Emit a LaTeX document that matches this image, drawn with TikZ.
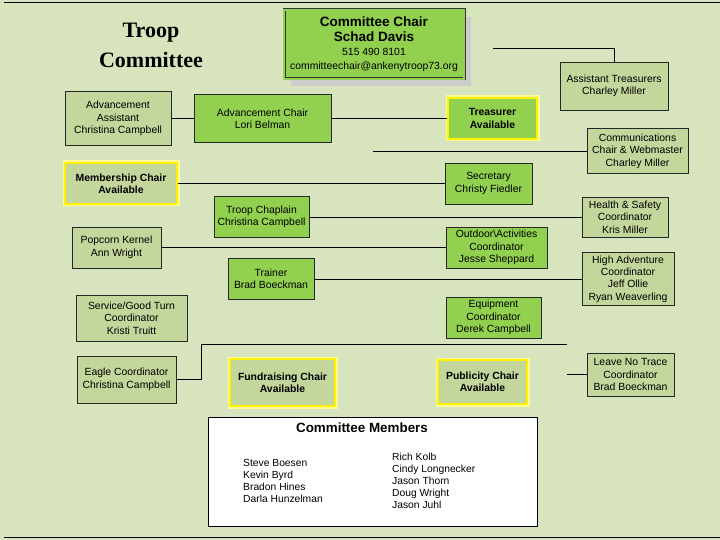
\documentclass[tikz,border=0pt]{standalone}
\usepackage{fontspec}
\setmainfont{Liberation Sans}
\newfontfamily\titlefont{Liberation Serif}
\usetikzlibrary{shadows}
\definecolor{pagegreen}{HTML}{D7E4BD}
\definecolor{olivefill}{HTML}{C3D69B}
\definecolor{brightgreen}{HTML}{92D050}

\begin{document}
\begin{tikzpicture}
   [x=1pt, y=-1pt,
   every node/.style={font=\fontsize{10.4}{12.4}\selectfont, align=center, inner sep=0pt},
   greenbox/.style={rectangle, draw=black!85, fill=brightgreen, line width=0.8pt},
   olivebox/.style={rectangle, draw=black!85, fill=olivefill, line width=0.8pt},
   glowbox/.style={rectangle, draw=yellow, fill=olivefill, line width=2.4pt, font=\fontsize{10.4}{12.4}\selectfont\bfseries, preaction={draw=yellow!40, line width=5pt}},
   chairbox/.style={rectangle, draw=black!80, double=brightgreen, double distance=1.6pt, line width=0.7pt, fill=brightgreen, font=\fontsize{10.4}{14.3}\selectfont, drop shadow={shadow xshift=7pt, shadow yshift=-7pt, fill=black!20, opacity=1}},
   listbox/.style={rectangle, draw=black, fill=white, line width=0.8pt},
   link/.style={draw=black, line width=0.8pt},
   ]
 % page
 \fill[pagegreen] (0,0) rectangle (720,540);
 \useasboundingbox (0,0) rectangle (720,540);
 \draw[line width=1pt] (4,3) -- (720,3);
 \draw[line width=1pt] (4,537) -- (720,537);
 \node[font=\titlefont\bfseries\fontsize{22}{30}\selectfont] (title) at (151,45) {Troop\\Committee};

 % top
 \node[chairbox, minimum width=180pt, minimum height=69pt] (chair) at (374,44.5)
   {{\bfseries\fontsize{13.5}{15}\selectfont Committee Chair}\\
    {\bfseries\fontsize{13.5}{15}\selectfont Schad Davis}\\
    515 490 8101\\ committeechair@ankenytroop73.org};
 \node[olivebox, minimum width=106pt, minimum height=54pt] (advasst) at (118,118.5) {Advancement\\Assistant\\Christina Campbell};
 \node[greenbox, minimum width=137pt, minimum height=48pt] (advchair) at (262.5,118.5) {Advancement Chair\\Lori Belman};
 \node[glowbox, fill=brightgreen, minimum width=89pt, minimum height=41pt] (treas) at (492.5,118.5) {Treasurer\\Available};
 \node[olivebox, minimum width=108pt, minimum height=48pt] (asttreas) at (614,86) {Assistant Treasurers\\Charley Miller};
 \node[olivebox, minimum width=101pt, minimum height=45pt] (comm) at (637.5,151) {Communications\\Chair \& Webmaster\\Charley Miller};

 % middle
 \node[glowbox, minimum width=112pt, minimum height=41pt] (member) at (121,183.5) {Membership Chair\\Available};
 \node[greenbox, minimum width=87pt, minimum height=41pt] (secretary) at (488.5,183.5) {Secretary\\Christy Fiedler};
 \node[greenbox, minimum width=95pt, minimum height=41pt] (chaplain) at (261.5,217) {Troop Chaplain\\Christina Campbell};
 \node[olivebox, minimum width=86pt, minimum height=40pt] (health) at (625,217) {Health \& Safety\\Coordinator\\Kris Miller};
 \node[olivebox, minimum width=89pt, minimum height=41pt] (popcorn) at (116.5,247.5) {Popcorn Kernel\\Ann Wright};
 \node[greenbox, minimum width=101pt, minimum height=41pt] (outdoor) at (496.5,247.5) {Outdoor\textbackslash Activities\\Coordinator\\Jesse Sheppard};
 \node[greenbox, minimum width=86pt, minimum height=41pt] (trainer) at (271,279) {Trainer\\Brad Boeckman};
 \node[olivebox, minimum width=92pt, minimum height=53pt] (highadv) at (628,279) {High Adventure\\Coordinator\\Jeff Ollie\\Ryan Weaverling};
 \node[olivebox, minimum width=111pt, minimum height=46pt] (service) at (131.5,318) {Service/Good Turn\\Coordinator\\Kristi Truitt};
 \node[greenbox, minimum width=95pt, minimum height=41pt] (equip) at (493.5,317.5) {Equipment\\Coordinator\\Derek Campbell};

 % bottom
 \node[olivebox, minimum width=99pt, minimum height=47pt] (eagle) at (126.5,379.5) {Eagle Coordinator\\Christina Campbell};
 \node[glowbox, minimum width=105pt, minimum height=47pt] (fundraise) at (282.5,382.5) {Fundraising Chair\\Available};
 \node[glowbox, minimum width=89pt, minimum height=44pt] (publicity) at (482.5,382) {Publicity Chair\\Available};
 \node[olivebox, minimum width=87pt, minimum height=43pt] (lnt) at (630.5,374.5) {Leave No Trace\\Coordinator\\Brad Boeckman};

 % members list
 \node[listbox, minimum width=329pt, minimum height=109pt] (members) at (372.5,471.5) {};
 \node[font=\bfseries\fontsize{13.4}{16}\selectfont] (memhead) at (362,428) {Committee Members};
 \node[anchor=west, align=left, font=\fontsize{10.3}{12}\selectfont] (memleft) at (243,481) {Steve Boesen\\Kevin Byrd\\Bradon Hines\\Darla Hunzelman};
 \node[anchor=west, align=left, font=\fontsize{10.3}{12}\selectfont] (memright) at (392,481) {Rich Kolb\\Cindy Longnecker\\Jason Thorn\\Doug Wright\\Jason Juhl};

 % connectors
 \coordinate (tstub) at (493,48);
 \coordinate (cstub) at (373,151);
 \coordinate (estub) at (567,344);
 \coordinate (lstub) at (567,374.5);
 \draw[link] (advasst) -- (advchair);
 \draw[link] (advchair) -- (treas);
 \draw[link] (tstub) -| (asttreas.north);
 \draw[link] (cstub) -- (comm);
 \draw[link] (member) -- (secretary);
 \draw[link] (chaplain) -- (health);
 \draw[link] (popcorn) -- (outdoor);
 \draw[link] (trainer) -- (highadv);
 \draw[link] (eagle.east) -- ++(25,0) |- (estub);
 \draw[link] (lstub) -- (lnt);
\end{tikzpicture}
\end{document}
